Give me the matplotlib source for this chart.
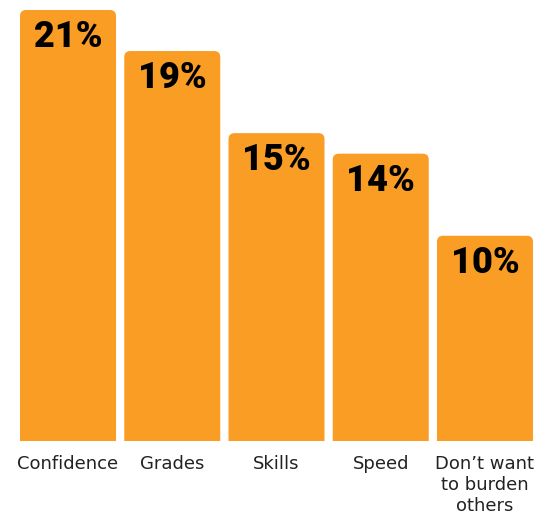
import matplotlib.pyplot as plt
from matplotlib.patches import FancyBboxPatch

categories = ['Confidence', 'Grades', 'Skills', 'Speed', 'Don\u2019t want\nto burden\nothers']
shares = [21, 19, 15, 14, 10]

bar_color = '#F99D24'
bar_w = 0.921
radius = 0.058
aspect = 5.07

fig = plt.figure(figsize=(5.5, 5.15), dpi=100)
ax = fig.add_axes([20 / 550, 74 / 515, 513 / 550, 431 / 515])
ax.set_xlim(-bar_w / 2, len(shares) - 1 + bar_w / 2)
ax.set_ylim(0, 21)

for i, v in enumerate(shares):
    # rounded top; the bottom corners run below zero and get clipped
    box = FancyBboxPatch((i - bar_w / 2, -2), bar_w, v + 2,
                         boxstyle=f'round,pad=0,rounding_size={radius}',
                         mutation_aspect=aspect, facecolor=bar_color,
                         edgecolor='none', clip_on=True)
    ax.add_patch(box)
    ax.text(i, v - 0.45, f'{v}%', ha='center', va='top',
            fontsize=26, fontweight='black', family='Roboto', color='black')

ax.set_xticks(range(len(categories)))
ax.set_xticklabels(categories, fontsize=13, color='#222222', linespacing=1.22)
ax.tick_params(axis='x', length=0, pad=10)
ax.set_yticks([])
for s in ax.spines.values():
    s.set_visible(False)

fig.savefig('out.png', dpi=100)
